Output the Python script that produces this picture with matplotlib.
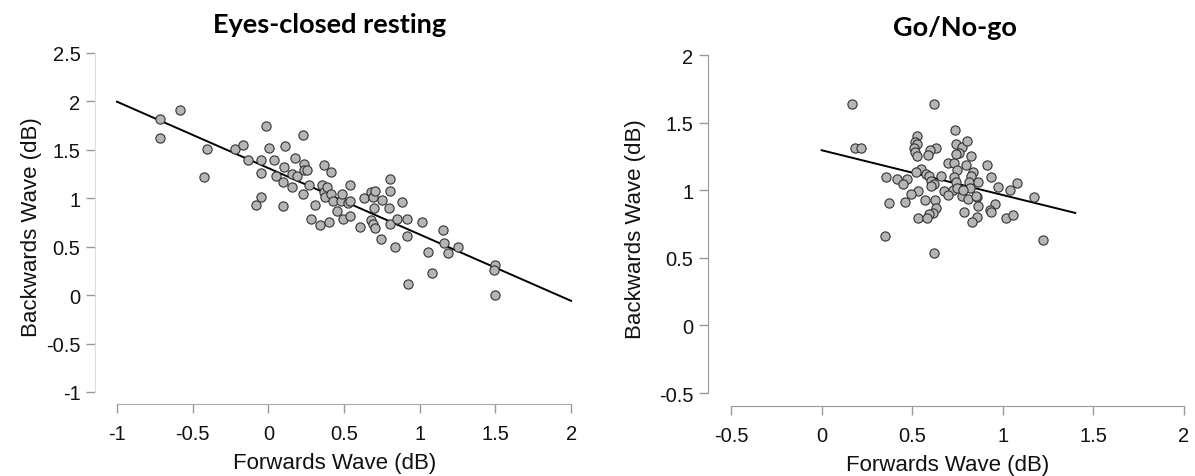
import matplotlib
matplotlib.use("Agg")
import matplotlib.pyplot as plt

plt.rcParams['axes.unicode_minus'] = False
plt.rcParams['font.family'] = ['Liberation Sans', 'DejaVu Sans']

# ---------------- data ----------------
rest_forward = [-0.716, -0.716, -0.582, -0.403, -0.423, -0.218, -0.167, -0.132, -0.081, -0.046,
                -0.051, -0.051, -0.013, 0.005, 0.035, 0.051, 0.094, 0.094, 0.101, 0.109,
                0.159, 0.159, 0.177, 0.190, 0.228, 0.238, 0.238, 0.253, 0.228, 0.266,
                0.284, 0.311, 0.342, 0.354, 0.367, 0.367, 0.372, 0.385, 0.400, 0.413,
                0.413, 0.430, 0.451, 0.481, 0.489, 0.491, 0.524, 0.537, 0.542, 0.542,
                0.605, 0.633, 0.681, 0.681, 0.694, 0.701, 0.704, 0.694, 0.704, 0.742,
                0.752, 0.803, 0.803, 0.800, 0.805, 0.835, 0.853, 0.881, 0.914, 0.919,
                0.924, 1.013, 1.056, 1.081, 1.157, 1.159, 1.185, 1.256, 1.499, 1.491,
                1.499]
rest_backward = [1.815, 1.622, 1.916, 1.510, 1.220, 1.510, 1.550, 1.390, 0.934, 1.010,
                 1.390, 1.262, 1.748, 1.521, 1.390, 1.227, 1.168, 0.920, 1.325, 1.535,
                 1.248, 1.119, 1.413, 1.227, 1.654, 1.350, 1.287, 1.287, 1.045, 1.136,
                 0.787, 0.927, 0.724, 1.136, 1.339, 1.063, 1.010, 1.112, 0.759, 1.273,
                 1.045, 0.972, 0.864, 0.972, 1.045, 0.787, 0.948, 0.972, 0.822, 1.140,
                 0.703, 1.000, 1.063, 0.773, 1.010, 0.902, 1.080, 0.738, 0.696, 0.577,
                 0.979, 1.203, 1.080, 0.899, 0.738, 0.493, 0.787, 0.962, 0.787, 0.615,
                 0.112, 0.755, 0.448, 0.224, 0.671, 0.538, 0.434, 0.500, 0.308, 0.255,
                 -0.003]
rest_fit_x = [-1.0, 2.0]
rest_fit_y = [1.997, -0.059]

gonogo_forward = [0.165, 0.618, 0.182, 0.219, 0.735, 0.529, 0.514, 0.529, 0.508, 0.514,
                  0.524, 0.629, 0.598, 0.585, 0.742, 0.777, 0.804, 0.758, 0.740, 0.823,
                  0.698, 0.731, 0.798, 0.915, 0.746, 0.550, 0.520, 0.574, 0.838, 0.826,
                  0.353, 0.418, 0.472, 0.447, 0.591, 0.604, 0.621, 0.606, 0.658, 0.729,
                  0.740, 0.725, 0.815, 0.863, 0.817, 0.934, 0.972, 1.076, 1.041, 1.174,
                  0.533, 0.491, 0.674, 0.698, 0.746, 0.777, 0.783, 0.808, 0.859, 0.850,
                  0.370, 0.462, 0.573, 0.627, 0.629, 0.616, 0.595, 0.861, 0.959, 0.930,
                  0.934, 0.788, 0.857, 0.831, 0.533, 0.583, 1.020, 1.055, 0.349, 1.222,
                  0.621]
gonogo_backward = [1.635, 1.635, 1.309, 1.316, 1.444, 1.404, 1.357, 1.344, 1.314, 1.284,
                   1.254, 1.316, 1.296, 1.261, 1.344, 1.321, 1.364, 1.276, 1.271, 1.251,
                   1.201, 1.201, 1.189, 1.184, 1.151, 1.158, 1.133, 1.123, 1.136, 1.108,
                   1.098, 1.083, 1.083, 1.043, 1.108, 1.066, 1.046, 1.031, 1.106, 1.101,
                   1.063, 1.000, 1.063, 1.063, 1.018, 1.096, 1.026, 1.051, 1.000, 0.950,
                   0.996, 0.975, 0.996, 0.963, 1.013, 0.958, 1.000, 0.933, 0.950, 0.958,
                   0.908, 0.913, 0.928, 0.925, 0.868, 0.835, 0.825, 0.880, 0.895, 0.855,
                   0.838, 0.840, 0.802, 0.765, 0.797, 0.797, 0.795, 0.817, 0.659, 0.632,
                   0.539]
gonogo_fit_x = [0.0, 1.4]
gonogo_fit_y = [1.296, 0.832]

rest_xticks = [-1, -0.5, 0, 0.5, 1, 1.5, 2]
rest_xlabels = ["-1", "-0.5", "0", "0.5", "1", "1.5", "2"]
rest_yticks = [-1, -0.5, 0, 0.5, 1, 1.5, 2, 2.5]
rest_ylabels = ["-1", "-0.5", "0", "0.5", "1", "1.5", "2", "2.5"]
gonogo_xticks = [-0.5, 0, 0.5, 1, 1.5, 2]
gonogo_xlabels = ["-0.5", "0", "0.5", "1", "1.5", "2"]
gonogo_yticks = [-0.5, 0, 0.5, 1, 1.5, 2]
gonogo_ylabels = ["-0.5", "0", "0.5", "1", "1.5", "2"]

titles = ["Eyes-closed resting", "Go/No-go"]
xlabel = "Forwards Wave (dB)"
ylabel = "Backwards Wave (dB)"

# ---------------- figure ----------------
W, H = 1195, 477
fig = plt.figure(figsize=(W / 100, H / 100), dpi=100)


def px_axes(x0, x1, y0, y1):
    return fig.add_axes([x0 / W, 1 - y1 / H, (x1 - x0) / W, (y1 - y0) / H])


def style(ax, xt, xl, yt, yl, yspine_col, xspine_col, ylab_x):
    for s in ("top", "right"):
        ax.spines[s].set_visible(False)
    ax.spines["left"].set_color(yspine_col)
    ax.spines["bottom"].set_color(xspine_col)
    ax.spines["left"].set_bounds(yt[0], yt[-1])
    ax.spines["bottom"].set_bounds(xt[0], xt[-1])
    ax.set_xticks(xt)
    ax.set_xticklabels(xl)
    ax.set_yticks(yt)
    ax.set_yticklabels(yl)
    ax.tick_params(axis="both", colors="#999999", labelcolor="#111111",
                   labelsize=14.5, length=6.5, width=1)
    ax.tick_params(axis="x", pad=8)
    ax.tick_params(axis="y", pad=4)
    ax.set_xlabel(xlabel, fontsize=16, labelpad=6.5, color="#111111")
    ax.set_ylabel(ylabel, fontsize=16, color="#111111")
    ax.yaxis.set_label_coords(ylab_x, 0.5)


# Left panel
ax1 = px_axes(95, 575, 50, 405)
ax1.set_xlim(-1.145, 2.026)
ax1.set_ylim(-1.124, 2.541)
ax1.plot(rest_fit_x, rest_fit_y, color="black", lw=1.4, zorder=2)
ax1.scatter(rest_forward, rest_backward, s=44, facecolor="#b5b5b5",
            edgecolor="#333333", linewidth=0.8, zorder=3)
style(ax1, rest_xticks, rest_xlabels, rest_yticks, rest_ylabels, "#dddddd", "#aaaaaa",
      (42 - 95) / 480)

# Right panel
ax2 = px_axes(708, 1188, 52, 407)
ax2.set_xlim(-0.627, 2.022)
ax2.set_ylim(-0.596, 2.03)
ax2.plot(gonogo_fit_x, gonogo_fit_y, color="black", lw=1.4, zorder=2)
ax2.scatter(gonogo_forward, gonogo_backward, s=44, facecolor="#b5b5b5",
            edgecolor="#333333", linewidth=0.8, zorder=3)
style(ax2, gonogo_xticks, gonogo_xlabels, gonogo_yticks, gonogo_ylabels, "#999999", "#999999",
      (646 - 708) / 480)

fig.text(330 / W, 1 - 25 / H, titles[0], ha="center", va="center",
         fontsize=19.5, fontweight="bold", family=["Lato", "DejaVu Sans"])
fig.text(955 / W, 1 - 28 / H, titles[1], ha="center", va="center",
         fontsize=19.5, fontweight="bold", family=["Lato", "DejaVu Sans"])

fig.savefig("out.png", dpi=100)
